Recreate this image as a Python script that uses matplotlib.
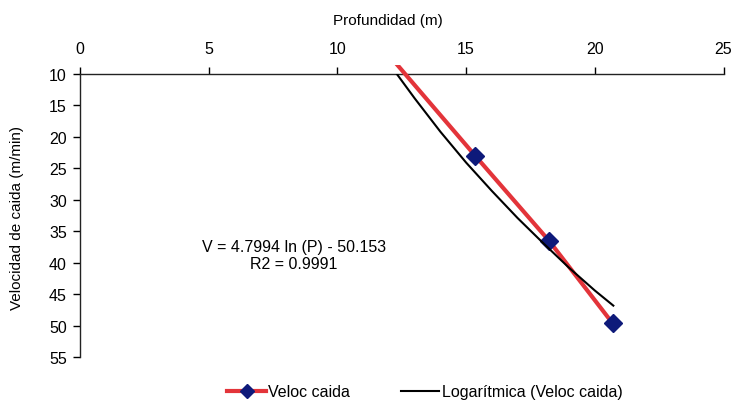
import matplotlib
matplotlib.use("Agg")
import matplotlib.pyplot as plt
from matplotlib.transforms import Bbox, TransformedBbox

plt.rcParams['font.family'] = ['Liberation Sans', 'DejaVu Sans']

# Data: Profundidad (m) vs Velocidad de caida (m/min)
profundidad = [11.95, 15.35, 18.22, 20.69]
velocidad = [6.8, 23.0, 36.5, 49.6]

# Logarithmic trendline
trend_prof = [12.3, 13.0, 14.0, 15.0, 16.0, 17.0, 18.0, 19.0, 20.0, 20.72]
trend_vel = [10.0, 13.9, 19.2, 24.1, 28.6, 32.9, 36.9, 40.8, 44.4, 46.8]

x_ticks = [0, 5, 10, 15, 20, 25]
y_ticks = [10, 15, 20, 25, 30, 35, 40, 45, 50, 55]

W, H = 733, 402
fig = plt.figure(figsize=(W / 100, H / 100), dpi=100)
ax = fig.add_axes([80 / W, 1 - 358.3 / H, (723.5 - 80) / W, (358.3 - 74.7) / H])

red = '#E3343A'
navy = '#0E1A7A'

(l_red,) = ax.plot(profundidad, velocidad, color=red, lw=3.0, marker='D',
                   markersize=9.5, markerfacecolor=navy, markeredgecolor=navy,
                   label='Veloc caida', zorder=3)
l_red.set_clip_path(None)
l_red.set_clip_box(TransformedBbox(Bbox([[0, 0], [1, 1.031]]), ax.transAxes))

(l_blk,) = ax.plot(trend_prof, trend_vel, color='black', lw=1.5,
                   label='Logarítmica (Veloc caida)', zorder=4)

ax.set_xlim(0, 25)
ax.set_ylim(55, 10)
ax.xaxis.tick_top()
ax.xaxis.set_label_position('top')
ax.set_xticks(x_ticks)
ax.set_yticks(y_ticks)
ax.tick_params(axis='x', direction='out', length=5, width=1, pad=7.5, labelsize=11.5)
ax.tick_params(axis='y', direction='out', length=5, width=1, pad=4.5, labelsize=11.5)
for s in ['right', 'bottom']:
    ax.spines[s].set_visible(False)
for s in ['top', 'left']:
    ax.spines[s].set_linewidth(1.0)
    ax.spines[s].set_color('#222222')

fig.text(388 / W, 1 - 20.7 / H, 'Profundidad (m)', ha='center', va='center', fontsize=11)
fig.text(16.7 / W, 1 - 218 / H, 'Velocidad de caida (m/min)', ha='center', va='center',
         rotation=90, fontsize=11)

fig.text(294 / W, 1 - 256 / H, 'V = 4.7994 ln (P) - 50.153\nR2 = 0.9991',
         ha='center', va='center', multialignment='center', fontsize=11.5, linespacing=1.15)

fig.legend(handles=[l_red, l_blk], loc='center', bbox_to_anchor=(425 / W, 1 - 393 / H),
           ncol=2, frameon=False, fontsize=11.5, handlelength=2.4, handletextpad=0.15,
           columnspacing=3.2, borderaxespad=0, markerscale=0.75)

fig.savefig('out.png', dpi=100)
